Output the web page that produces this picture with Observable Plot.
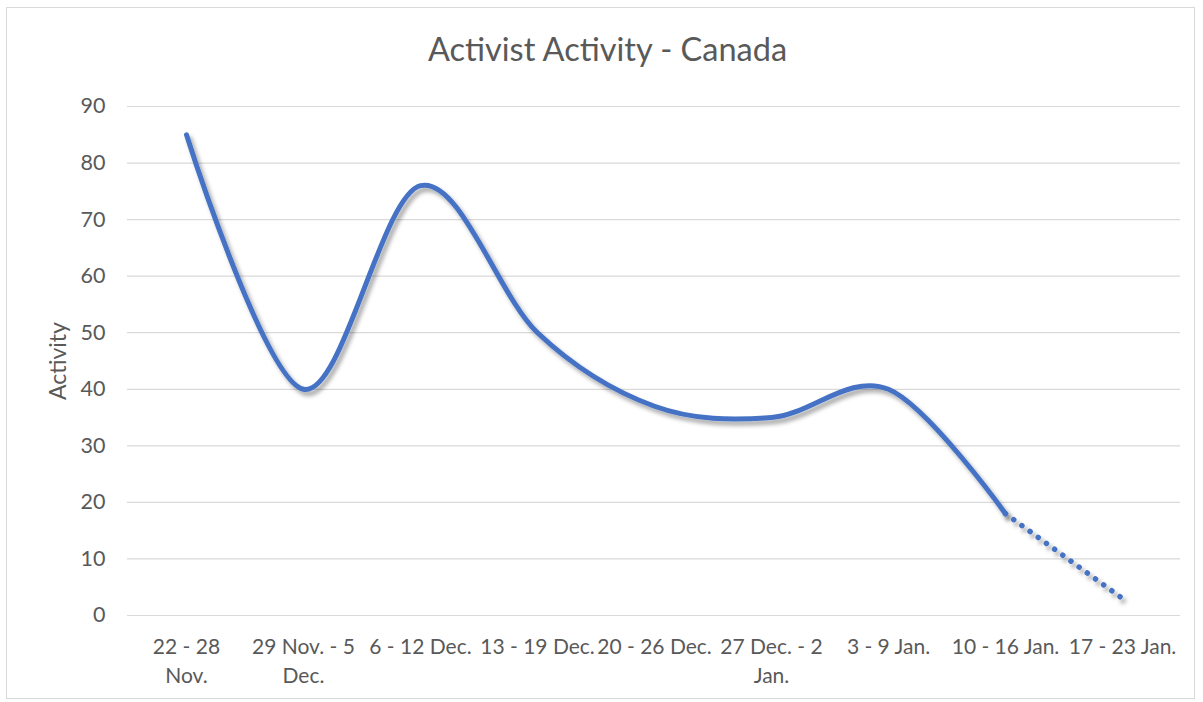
<!DOCTYPE html>
<html>
<head>
<meta charset="utf-8">
<script src="https://cdn.jsdelivr.net/npm/d3@7"></script>
<script src="https://cdn.jsdelivr.net/npm/@observablehq/plot@0.6"></script>
<style>
  body { margin: 0; background: #fff; font-family: Lato, "Open Sans", sans-serif; }
  #wrap { position: relative; width: 1203px; height: 702px; overflow: hidden; }
  #border { position: absolute; left: 6px; top: 7px; width: 1189px; height: 692px; border: 1px solid #d9d9d9; box-sizing: border-box; }
  #title { position: absolute; left: 0; top: 29px; width: 1215px; text-align: center; font-size: 32.5px; color: #595959; font-family: Lato, sans-serif; line-height: 40px; }
  #chart { position: absolute; left: 0; top: 0; }
  .shadowed g[aria-label="line"] path { filter: url(#shadow); }
</style>
</head>
<body>
<svg width="0" height="0" style="position:absolute">
  <defs>
    <filter id="shadow" x="-20%" y="-20%" width="140%" height="140%">
      <feDropShadow dx="3" dy="4" stdDeviation="2.2" flood-color="#000" flood-opacity="0.35"/>
    </filter>
  </defs>
</svg>
<div id="wrap">
  <div id="border"></div>
  <div id="title">Activist Activity - Canada</div>
  <div id="chart"></div>
</div>
<script>
const categories = ["22 - 28\nNov.", "29 Nov. - 5\nDec.", "6 - 12 Dec.", "13 - 19 Dec.", "20 - 26 Dec.", "27 Dec. - 2\nJan.", "3 - 9 Jan.", "10 - 16 Jan.", "17 - 23 Jan."];
const activity = [85, 40, 76, 50, 37, 35, 40, 18, 3];
const yTicks = [0, 10, 20, 30, 40, 50, 60, 70, 80, 90];

const data = categories.map((c, i) => ({week: c, value: activity[i], i}));
const solid = data.slice(0, 8);
const dotted = data.slice(7);

const chart = Plot.plot({
  width: 1203,
  height: 702,
  marginLeft: 127,
  marginRight: 23,
  marginTop: 106,
  marginBottom: 87,
  className: "shadowed",
  style: {fontFamily: "Lato, sans-serif", fontSize: "20px", color: "#595959", background: "transparent"},
  x: {type: "point", domain: categories, padding: 0.5, align: 0.5, label: null, tickSize: 0},
  y: {domain: [0, 90], ticks: yTicks, label: null, tickSize: 0},
  marks: [
    Plot.gridY(yTicks, {stroke: "#d9d9d9", strokeOpacity: 1, strokeWidth: 1.2}),
    Plot.axisY({ticks: yTicks, tickSize: 0, tickPadding: 22, label: null, fontSize: 21.5}),
    Plot.axisX({tickSize: 0, tickPadding: 18, label: null, fontSize: 21, lineHeight: 1.38}),
    Plot.line(solid, {x: "week", y: "value", stroke: "#4472c4", strokeWidth: 5, curve: "cardinal", tension: 0}),
    Plot.line(dotted, {x: "week", y: "value", stroke: "#4472c4", strokeWidth: 5.5, strokeDasharray: "0.1 10", strokeLinecap: "round"}),
    Plot.text(["Activity"], {frameAnchor: "left", textAnchor: "middle", dx: -69, rotate: -90, fontSize: 23, fill: "#595959"})
  ]
});
document.getElementById("chart").appendChild(chart);
</script>
</body>
</html>
